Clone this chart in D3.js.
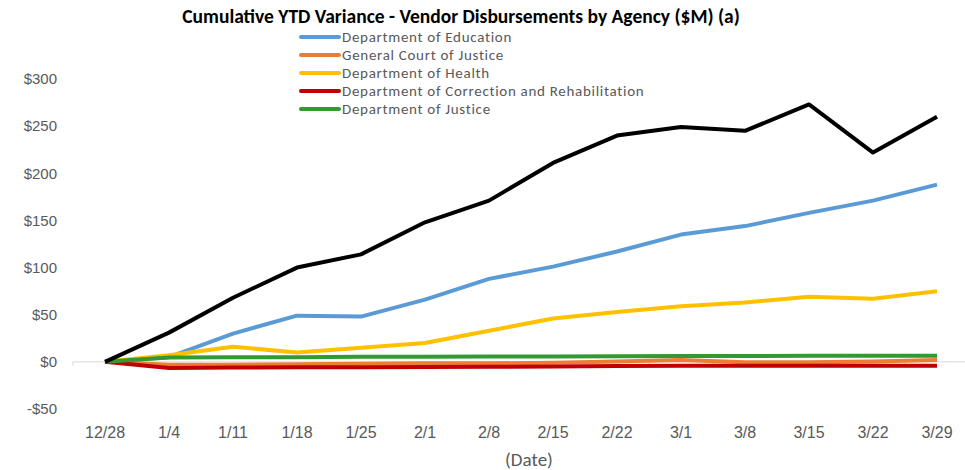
<!DOCTYPE html>
<html>
<head>
<meta charset="utf-8">
<script src="https://cdn.jsdelivr.net/npm/d3@7"></script>
<style>
  body { margin: 0; background: #fff; }
  svg { font-family: Carlito, Calibri, Lato, sans-serif; }
  .tick text { fill: #595959; }
  .x-axis .tick text { font-size: 16px; }
  .y-axis .tick text { font-size: 15px; }
</style>
</head>
<body>
<div id="chart"></div>
<script>
// categories (week ending)
const dates = ["12/28", "1/4", "1/11", "1/18", "1/25", "2/1", "2/8", "2/15", "2/22", "3/1", "3/8", "3/15", "3/22", "3/29"];

// cumulative YTD variance, $M
const total       = [0, 31, 68, 100, 114, 148, 171, 211, 240, 249, 245, 273, 222, 260];
const education   = [0, 5, 30, 49, 48, 66, 88, 101, 117, 135, 144, 158, 171, 188];
const courtJustice = [0, -3, -3, -2.5, -2, -1.5, -1.5, -1, 0.5, 2, -0.5, -0.5, 0.5, 2];
const health      = [0, 7, 16, 10, 15, 20, 33, 46, 53, 59, 63, 69, 67, 75];
const correction  = [0, -6.5, -6, -5.8, -5.6, -5.4, -5.3, -5, -4.5, -4, -4, -4, -4, -4];
const justice     = [0, 4.5, 5, 5, 5.3, 5.5, 5.6, 5.8, 6, 6.2, 6.3, 6.4, 6.5, 6.5];

const yTicks = [-50, 0, 50, 100, 150, 200, 250, 300];

const series = [
  {name: "Department of Education", values: education, color: "#5b9bd5", legend: true},
  {name: "General Court of Justice", values: courtJustice, color: "#ed7d31", legend: true},
  {name: "Department of Health", values: health, color: "#ffc000", legend: true},
  {name: "Department of Correction and Rehabilitation", values: correction, color: "#c00000", legend: true},
  {name: "Department of Justice", values: justice, color: "#339933", legend: true},
  {name: "Total", values: total, color: "#000000", legend: false}
];

const W = 965, H = 470;

const svg = d3.select("#chart").append("svg")
    .attr("width", W)
    .attr("height", H);

const x = d3.scaleBand().domain(dates).range([73, 969]).paddingInner(0).paddingOuter(0);
const y = d3.scaleLinear().domain([-50, 300]).range([409, 79]);
const cx = d => x(d) + x.bandwidth() / 2;

// title
svg.append("text")
    .attr("x", 461).attr("y", 23)
    .attr("text-anchor", "middle")
    .style("font-size", "19.5px")
    .style("font-weight", "bold")
    .style("fill", "#000")
    .text("Cumulative YTD Variance - Vendor Disbursements by Agency ($M) (a)");

// y axis labels only
const yAxis = d3.axisLeft(y).tickValues(yTicks).tickSize(0).tickPadding(0)
    .tickFormat(d => (d < 0 ? "-$" : "$") + Math.abs(d));
svg.append("g")
    .attr("class", "y-axis")
    .attr("transform", "translate(57,0)")
    .call(yAxis)
    .call(g => g.select(".domain").remove());

// zero line with tick marks between categories
svg.append("line")
    .attr("x1", x.range()[0]).attr("x2", x.range()[1])
    .attr("y1", y(0)).attr("y2", y(0))
    .attr("stroke", "#d9d9d9").attr("stroke-width", 1);
svg.append("g")
    .selectAll("line")
    .data(dates)
    .join("line")
    .attr("x1", d => x(d)).attr("x2", d => x(d))
    .attr("y1", y(0)).attr("y2", y(0) + 4)
    .attr("stroke", "#d9d9d9");

// x axis labels
const xAxis = d3.axisBottom(x).tickSize(0).tickPadding(0);
svg.append("g")
    .attr("class", "x-axis")
    .attr("transform", "translate(0,427)")
    .call(xAxis)
    .call(g => g.select(".domain").remove());

svg.append("text")
    .attr("x", 529).attr("y", 466)
    .attr("text-anchor", "middle")
    .style("font-size", "19px")
    .style("fill", "#595959")
    .text("(Date)");

// lines
const line = d3.line()
    .x((d, i) => cx(dates[i]))
    .y(d => y(d));

svg.append("g")
    .selectAll("path")
    .data(series)
    .join("path")
    .attr("d", d => line(d.values))
    .attr("fill", "none")
    .attr("stroke", d => d.color)
    .attr("stroke-width", 4)
    .attr("stroke-linejoin", "round");

// legend
const legend = svg.append("g")
    .selectAll("g")
    .data(series.filter(d => d.legend))
    .join("g")
    .attr("transform", (d, i) => `translate(301, ${37 + i * 18})`);

legend.append("line")
    .attr("x1", 0).attr("x2", 38)
    .attr("stroke", d => d.color)
    .attr("stroke-width", 4)
    .attr("stroke-linecap", "round");

legend.append("text")
    .attr("x", 41).attr("dy", "0.35em")
    .style("font-size", "15px")
    .style("letter-spacing", "0.7px")
    .style("fill", "#595959")
    .text(d => d.name);
</script>
</body>
</html>
